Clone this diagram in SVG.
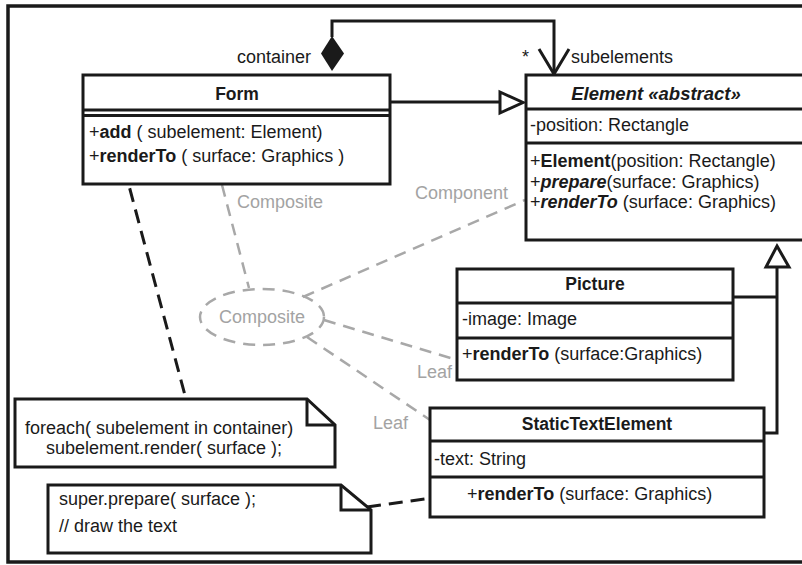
<svg xmlns="http://www.w3.org/2000/svg" width="802" height="565" viewBox="0 0 802 565">
  <style>
    text { font-family: "Liberation Sans", Arial, sans-serif; font-size: 18px; fill: #1a1a1a; }
    .title { font-size: 17.5px; }
    .b { font-weight: bold; }
    .bi { font-weight: bold; font-style: italic; }
    .mid { text-anchor: middle; }
    .gray { fill: #a3a3a3; }
    .box { fill: #fff; stroke: #1a1a1a; stroke-width: 3; }
    .sep { stroke: #1a1a1a; stroke-width: 3; fill: none; }
    .line { stroke: #1a1a1a; stroke-width: 3; fill: none; }
    .dash { stroke: #1a1a1a; stroke-width: 3; fill: none; stroke-dasharray: 14 8; }
    .gdash { stroke: #a8a8a8; stroke-width: 2.5; fill: none; stroke-dasharray: 12 8; }
    .hollow { fill: #fff; stroke: #1a1a1a; stroke-width: 3; stroke-linejoin: miter; }
  </style>

  <!-- outer frame -->
  <rect x="8" y="6" width="810" height="556" fill="#fff" stroke="#1a1a1a" stroke-width="3.5"/>

  <!-- connectors -->
  <g id="connectors">
    <!-- composition Form -> Element (container / subelements) -->
    <polyline class="line" points="332,37 332,21 554,21 554,74"/>
    <polygon points="332,36 344,53.5 332,71 321,53.5" fill="#1a1a1a"/>
    <polyline class="line" points="539,49 554,74 569,49"/>
    <!-- generalization Form -> Element -->
    <line class="line" x1="390" y1="102" x2="500" y2="102"/>
    <polygon class="hollow" points="500,92 523,102.5 500,113"/>
    <!-- generalization Picture / StaticTextElement -> Element -->
    <polyline class="line" points="733,297 777,297"/>
    <polyline class="line" points="764,433 777,433 777,267"/>
    <polygon class="hollow" points="777,246 789,267 766,267"/>
    <!-- note anchors -->
    <line class="dash" x1="124" y1="167" x2="186" y2="399"/>
    <line class="dash" x1="367" y1="507" x2="447" y2="496"/>
    <!-- pattern collaboration -->
    <line class="gdash" x1="222" y1="185" x2="249" y2="288"/>
    <line class="gdash" x1="303" y1="297" x2="525" y2="200"/>
    <line class="gdash" x1="324" y1="320" x2="457" y2="360"/>
    <line class="gdash" x1="307" y1="337" x2="430" y2="420"/>
  </g>

  <!-- pattern usage ellipse -->
  <g id="composite-pattern">
    <ellipse cx="262" cy="317" rx="62" ry="28" fill="#fff" class="gdash"/>
    <text class="gray mid" x="262" y="323">Composite</text>
    <text class="gray" x="237" y="208">Composite</text>
    <text class="gray" x="415" y="199">Component</text>
    <text class="gray" x="417" y="378">Leaf</text>
    <text class="gray" x="373" y="429">Leaf</text>
  </g>

  <!-- association end labels -->
  <g id="roles">
    <text x="237" y="63">container</text>
    <text x="522" y="63">*</text>
    <text x="571" y="63">subelements</text>
  </g>

  <g id="form">
    <rect class="box" x="83" y="75" width="307" height="109"/>
    <line class="sep" x1="83" y1="110" x2="390" y2="110"/>
    <line class="sep" x1="83" y1="115.5" x2="390" y2="115.5"/>
    <text class="title b mid" x="237" y="100">Form</text>
    <text x="89" y="138">+<tspan class="b">add</tspan> ( subelement: Element)</text>
    <text x="89" y="162">+<tspan class="b">renderTo</tspan> ( surface: Graphics )</text>
  </g>

  <g id="element">
    <rect class="box" x="526" y="75" width="300" height="165"/>
    <line class="sep" x1="526" y1="109" x2="826" y2="109"/>
    <line class="sep" x1="526" y1="143" x2="826" y2="143"/>
    <text class="title bi mid" x="656" y="100" style="font-size:18.5px">Element «abstract»</text>
    <text x="530" y="131">-position: Rectangle</text>
    <text x="530" y="167">+<tspan class="b">Element</tspan>(position: Rectangle)</text>
    <text x="530" y="188">+<tspan class="bi">prepare</tspan>(surface: Graphics)</text>
    <text x="530" y="208">+<tspan class="bi">renderTo</tspan>  (surface: Graphics)</text>
  </g>

  <g id="picture">
    <rect class="box" x="457" y="269" width="276" height="111"/>
    <line class="sep" x1="457" y1="303" x2="733" y2="303"/>
    <line class="sep" x1="457" y1="338" x2="733" y2="338"/>
    <text class="title b mid" x="595" y="290">Picture</text>
    <text x="462" y="325">-image: Image</text>
    <text x="462" y="360">+<tspan class="b">renderTo</tspan>  (surface:Graphics)</text>
  </g>

  <g id="static-text-element">
    <rect class="box" x="430" y="408" width="334" height="109"/>
    <line class="sep" x1="430" y1="441" x2="764" y2="441"/>
    <line class="sep" x1="430" y1="477" x2="764" y2="477"/>
    <text class="title b mid" x="597" y="430">StaticTextElement</text>
    <text x="434" y="465">-text: String</text>
    <text x="467" y="500">+<tspan class="b">renderTo</tspan>  (surface: Graphics)</text>
  </g>

  <g id="note-foreach">
    <polygon class="box" points="15,399 307,399 335,425 335,467 15,467"/>
    <polyline class="line" points="307,399 307,425 335,425"/>
    <text x="25" y="434">foreach( subelement in container)</text>
    <text x="46" y="454">subelement.render( surface );</text>
  </g>

  <g id="note-prepare">
    <polygon class="box" points="48,485 341,485 371,510 371,553 48,553"/>
    <polyline class="line" points="341,485 341,510 371,510"/>
    <text x="59" y="505">super.prepare( surface );</text>
    <text x="59" y="532">// draw the text</text>
  </g>
</svg>
